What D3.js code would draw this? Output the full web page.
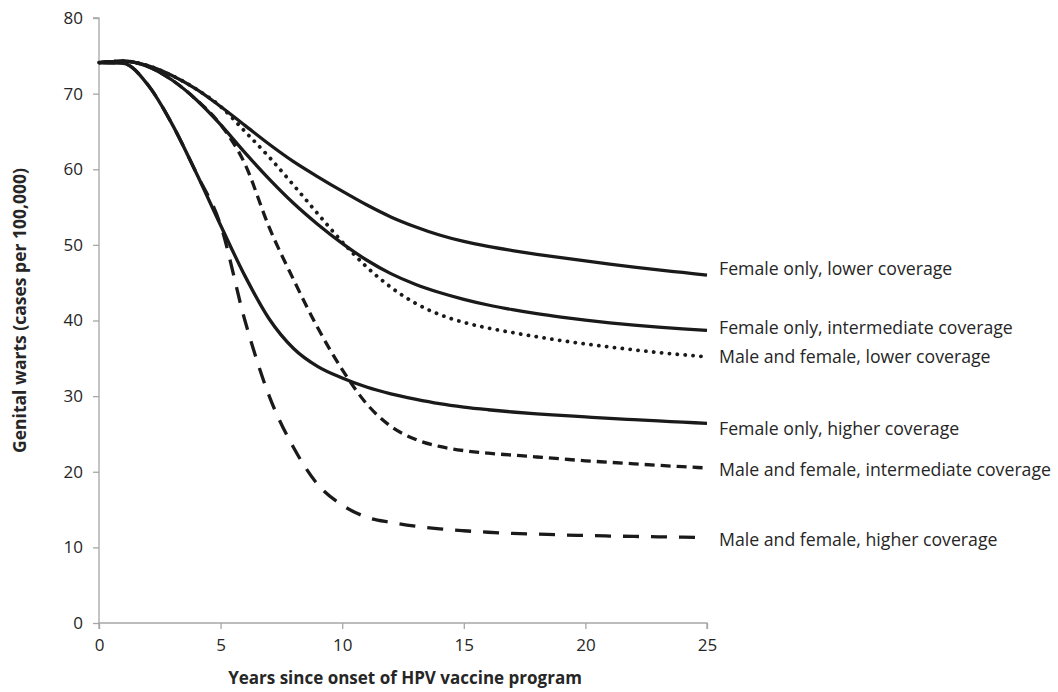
<!DOCTYPE html>
<html>
<head>
<meta charset="utf-8">
<script src="https://cdn.jsdelivr.net/npm/d3@7"></script>
<style>
  body { margin: 0; background: #fff; }
  text { font-family: "Open Sans", sans-serif; fill: #262626; }
</style>
</head>
<body>
<script>
// Years since start of programme
var years = d3.range(0, 26);

// Genital warts, cases per 100,000
var femaleLower = [74.1, 74.3, 73.7, 72.4, 70.6, 68.3, 65.8, 63.3, 61.0, 59.0, 57.1, 55.3, 53.7, 52.4, 51.3, 50.45,
                   49.8, 49.25, 48.75, 48.3, 47.87, 47.46, 47.07, 46.7, 46.35, 46.0];
var femaleInter = [74.1, 74.3, 73.6, 71.8, 69.2, 65.9, 62.2, 58.7, 55.5, 52.7, 50.2, 48.0, 46.2, 44.8, 43.7, 42.8,
                   42.05, 41.43, 40.9, 40.45, 40.05, 39.7, 39.4, 39.13, 38.9, 38.7];
var bothLower = [74.1, 74.3, 73.7, 72.4, 70.6, 68.3, 65.0, 61.6, 57.9, 54.1, 50.4, 47.1, 44.4, 42.3, 40.8, 39.75,
                 39.0, 38.4, 37.85, 37.35, 36.9, 36.5, 36.12, 35.77, 35.47, 35.2];
var femaleHigher = [74.1, 74.0, 71.2, 66.0, 59.5, 52.6, 45.9, 40.2, 36.3, 33.9, 32.4, 31.2, 30.3, 29.6, 29.0, 28.55,
                    28.2, 27.9, 27.65, 27.45, 27.25, 27.05, 26.88, 26.72, 26.56, 26.4];
var bothInter = [74.1, 74.3, 73.6, 71.8, 69.2, 65.9, 60.7, 52.3, 45.4, 39.0, 33.5, 29.0, 26.0, 24.3, 23.35, 22.8,
                 22.45, 22.2, 21.95, 21.7, 21.45, 21.25, 21.05, 20.85, 20.67, 20.5];
var bothHigher = [74.1, 74.0, 71.2, 66.0, 59.5, 52.6, 40.0, 30.0, 23.2, 18.3, 15.6, 14.0, 13.3, 12.8, 12.45, 12.2,
                  12.0, 11.85, 11.75, 11.65, 11.57, 11.5, 11.45, 11.4, 11.35, 11.3];

var seriesNames = ["Female only, lower coverage", "Female only, intermediate coverage",
                   "Male and female, lower coverage", "Female only, higher coverage",
                   "Male and female, intermediate coverage", "Male and female, higher coverage"];
var seriesValues = [femaleLower, femaleInter, bothLower, femaleHigher, bothInter, bothHigher];

var xTicks = [0, 5, 10, 15, 20, 25];
var yTicks = [0, 10, 20, 30, 40, 50, 60, 70, 80];

// line look per series
var dashes = [null, null, "0.1,7.8", null, "10,6", "16,12"];
var caps = ["butt", "butt", "round", "butt", "butt", "butt"];
var widths = [3.3, 3.3, 3.8, 3.3, 3.3, 3.3];
var labelShift = [-6, -3, 0, 5, 2, 2]; // px nudge of the end labels

var w = 1058, h = 692;
var margin = {left: 99, right: 351, top: 18, bottom: 69};

var svg = d3.select("body").append("svg")
    .attr("width", w)
    .attr("height", h);

var x = d3.scaleLinear().domain([0, 25]).range([margin.left, w - margin.right]);
var y = d3.scaleLinear().domain([0, 80]).range([h - margin.bottom, margin.top]);

// axes
var xAxis = svg.append("g")
    .attr("transform", "translate(0," + y(0) + ")")
    .call(d3.axisBottom(x).tickValues(xTicks).tickSize(6).tickPadding(10));
var yAxis = svg.append("g")
    .attr("transform", "translate(" + x(0) + ",0)")
    .call(d3.axisLeft(y).tickValues(yTicks).tickSize(6).tickPadding(10));

[xAxis, yAxis].forEach(function(a) {
    a.selectAll("path, line").attr("stroke", "#a6a6a6").attr("stroke-width", 1.3);
    a.selectAll("text").style("font-size", "17px").style("font-family", "Open Sans, sans-serif").attr("fill", "#333");
});
xAxis.select(".domain").attr("d", "M" + x(0) + ",6V0H" + x(25) + "V6");
yAxis.select(".domain").attr("d", "M-6," + y(80) + "H0V" + y(0));

// lines
var line = d3.line()
    .x(function(d, i) { return x(years[i]); })
    .y(function(d) { return y(d); })
    .curve(d3.curveMonotoneX);

svg.selectAll(".series")
    .data(seriesValues)
    .enter()
    .append("path")
    .attr("class", "series")
    .attr("d", line)
    .attr("fill", "none")
    .attr("stroke", "#1a1a1a")
    .attr("stroke-width", function(d, i) { return widths[i]; })
    .attr("stroke-linecap", function(d, i) { return caps[i]; })
    .attr("stroke-dasharray", function(d, i) { return dashes[i]; });

// end labels
svg.selectAll(".lab")
    .data(seriesNames)
    .enter()
    .append("text")
    .attr("class", "lab")
    .attr("x", x(25) + 12)
    .attr("y", function(d, i) { return y(seriesValues[i][seriesValues[i].length - 1]) + labelShift[i]; })
    .attr("dy", "0.35em")
    .style("font-size", "17.7px")
    .text(function(d) { return d; });

// axis titles
svg.append("text")
    .attr("x", (x(0) + x(25)) / 2 + 2)
    .attr("y", 684)
    .attr("text-anchor", "middle")
    .style("font-size", "17px")
    .style("font-weight", "bold")
    .text("Years since onset of HPV vaccine program");

svg.append("text")
    .attr("transform", "translate(26," + (y(40) - 10) + ") rotate(-90)")
    .attr("text-anchor", "middle")
    .style("font-size", "17.5px")
    .style("font-weight", "bold")
    .text("Genital warts (cases per 100,000)");
</script>
</body>
</html>
